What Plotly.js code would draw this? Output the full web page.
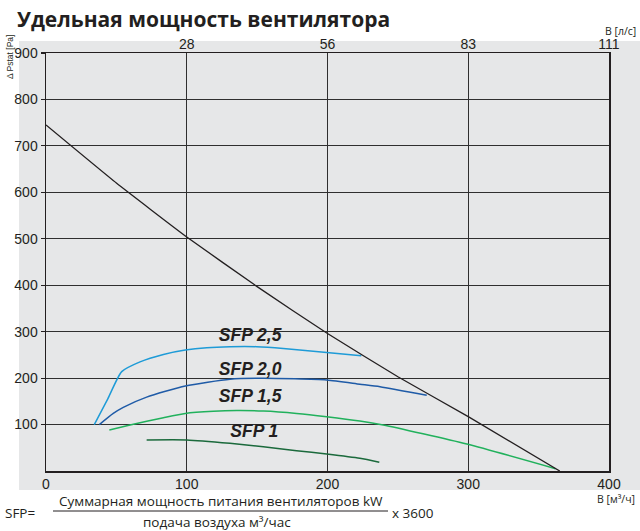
<!DOCTYPE html>
<html>
<head>
<meta charset="utf-8">
<script src="https://cdn.plot.ly/plotly-3.0.1.min.js"></script>
<style>html,body{margin:0;padding:0;background:#fff;}#chart{width:640px;height:531px;}</style>
</head>
<body>
<div id="chart"></div>
<script>
// ---- data (flow in m³/h, pressure in Pa) ----
const xTickVals = [0, 100, 200, 300, 400];
const yTickVals = [100, 200, 300, 400, 500, 600, 700, 800, 900];
const topTickVals = [100, 200, 300, 400];
const topTickText = ['28', '56', '83', '111'];

const fanFlow = [0, 50, 100, 150, 200, 250, 300, 365];
const fanPressure = [745, 620, 504, 397, 296, 203, 117, 0];

const sfp25Flow = [34.3, 44, 53.8, 66.8, 83.4, 99, 114.2, 130.7, 149.7, 168.6, 199.4, 224];
const sfp25Pressure = [100, 156, 214, 235, 251, 260.5, 265.5, 267.7, 267.7, 264, 255, 248];

const sfp20Flow = [37.9, 47.8, 54.9, 71.5, 99, 130.7, 154.4, 199.4, 223, 237.3, 270.5];
const sfp20Pressure = [100, 124, 137, 159, 183, 197.5, 199.6, 196, 187, 181.5, 163];

const sfp15Flow = [45, 59.7, 83.4, 99, 118.9, 135.5, 154.4, 178, 199.4, 223, 239.6, 299, 362];
const sfp15Pressure = [88.3, 99, 114.8, 124, 128.5, 130, 129, 124, 117, 107.7, 99, 58, 5];

const sfp10Flow = [71.5, 100, 130.7, 154.4, 178, 199.4, 223, 236.8];
const sfp10Pressure = [66.8, 66.8, 59.6, 52.4, 43.8, 36.6, 27.3, 18.7];

const sfpLabels = ['SFP 2,5', 'SFP 2,0', 'SFP 1,5', 'SFP 1'];
const sfpLabelFlow = [145, 145, 145, 148];
const sfpLabelPressure = [289, 217, 157, 82];

// ---- geometry helpers (pixel -> paper) ----
const W = 640, H = 531, ML = 46, MR = 31, MT = 53, MB = 60;
const PW = W - ML - MR, PH = H - MT - MB;
const px = v => (v - ML) / PW;
const py = v => (H - MB - v) / PH;

const dark = '#231f20';
const gridCol = '#2f2f2f';
const axFont = {family: 'Liberation Sans, Arial, sans-serif', size: 14, color: dark};
const formulaFont = {family: 'Open Sans, sans-serif', size: 13.5, color: dark};

const curve = (x, y, color) => ({
  x: x, y: y, type: 'scatter', mode: 'lines',
  line: {color: color, width: 1.5, shape: 'spline', smoothing: 0.6},
  hoverinfo: 'skip', showlegend: false
});

const traces = [
  Object.assign(curve(fanFlow, fanPressure, dark), {xaxis: 'x2', line: {color: dark, width: 1.3, shape: 'spline', smoothing: 0.4}}),
  curve(sfp25Flow, sfp25Pressure, '#1e9bd7'),
  curve(sfp20Flow, sfp20Pressure, '#1f5ba7'),
  curve(sfp15Flow, sfp15Pressure, '#21b15c'),
  curve(sfp10Flow, sfp10Pressure, '#1b6a3c'),
  {
    x: sfpLabelFlow, y: sfpLabelPressure, text: sfpLabels, type: 'scatter', mode: 'text',
    textfont: {family: 'Liberation Sans, Arial, sans-serif', size: 17.5, color: dark, weight: 'bold', style: 'italic'},
    hoverinfo: 'skip', showlegend: false
  }
];

const layout = {
  width: W, height: H,
  margin: {l: ML, r: MR, t: MT, b: MB, pad: 0},
  paper_bgcolor: '#ffffff',
  plot_bgcolor: '#e6e7e8',
  showlegend: false,
  title: {
    text: 'Удельная мощность вентилятора',
    xref: 'container', yref: 'container',
    x: 17 / W, xanchor: 'left', y: 1 - 20 / H, yanchor: 'middle',
    font: {family: 'Open Sans, sans-serif', size: 21, weight: 'bold', color: dark}
  },
  xaxis: {
    range: [0, 400], tickvals: xTickVals, ticks: '', showgrid: true,
    gridcolor: gridCol, gridwidth: 1, zeroline: false,
    showline: true, mirror: true, linecolor: dark, linewidth: 1.5,
    tickfont: axFont, fixedrange: true
  },
  xaxis2: {
    range: [0, 400], overlaying: 'x', side: 'top', anchor: 'y',
    tickvals: topTickVals, ticktext: topTickText, ticks: '',
    showgrid: false, zeroline: false, showline: false,
    tickfont: axFont, fixedrange: true
  },
  yaxis: {
    range: [0, 900], tickvals: yTickVals, ticks: 'outside', ticklen: 4,
    tickcolor: dark, tickwidth: 1.2, showgrid: true,
    gridcolor: gridCol, gridwidth: 1, zeroline: false,
    showline: true, mirror: true, linecolor: dark, linewidth: 1.5,
    tickfont: axFont, fixedrange: true
  },
  shapes: [
    {type: 'rect', xref: 'paper', yref: 'paper', x0: px(19), x1: px(640), y0: py(490), y1: py(41),
     fillcolor: '#e6e7e8', line: {width: 0}, layer: 'below'},
    {type: 'line', xref: 'paper', yref: 'paper', x0: px(53), x1: px(388), y0: py(511), y1: py(511),
     line: {color: dark, width: 1}}
  ],
  annotations: [
    {text: 'Δ Pstat [Pa]', xref: 'paper', yref: 'paper', x: px(10), y: py(57), textangle: -90,
     showarrow: false, xanchor: 'center', yanchor: 'middle',
     font: {family: 'Liberation Sans, Arial, sans-serif', size: 8.5, color: dark}},
    {text: 'B [л/с]', xref: 'paper', yref: 'paper', x: px(638), y: py(31),
     showarrow: false, xanchor: 'right', yanchor: 'middle',
     font: {family: 'Open Sans, sans-serif', size: 10.5, color: dark}},
    {text: 'B [м³/ч]', xref: 'paper', yref: 'paper', x: px(637), y: py(499),
     showarrow: false, xanchor: 'right', yanchor: 'middle',
     font: {family: 'Open Sans, sans-serif', size: 10.5, color: dark}},
    {text: 'SFP=', xref: 'paper', yref: 'paper', x: px(4), y: py(513),
     showarrow: false, xanchor: 'left', yanchor: 'middle', font: formulaFont, borderpad: 0},
    {text: 'Суммарная мощность питания вентиляторов kW', xref: 'paper', yref: 'paper', x: px(221), y: py(501),
     showarrow: false, xanchor: 'center', yanchor: 'middle', font: formulaFont, borderpad: 0},
    {text: 'x 3600', xref: 'paper', yref: 'paper', x: px(391), y: py(513),
     showarrow: false, xanchor: 'left', yanchor: 'middle', font: formulaFont, borderpad: 0},
    {text: 'подача воздуха м³/час', xref: 'paper', yref: 'paper', x: px(217), y: py(521.5),
     showarrow: false, xanchor: 'center', yanchor: 'middle', font: formulaFont, borderpad: 0}
  ]
};

Plotly.newPlot('chart', traces, layout, {staticPlot: true, displayModeBar: false});
</script>
</body>
</html>
